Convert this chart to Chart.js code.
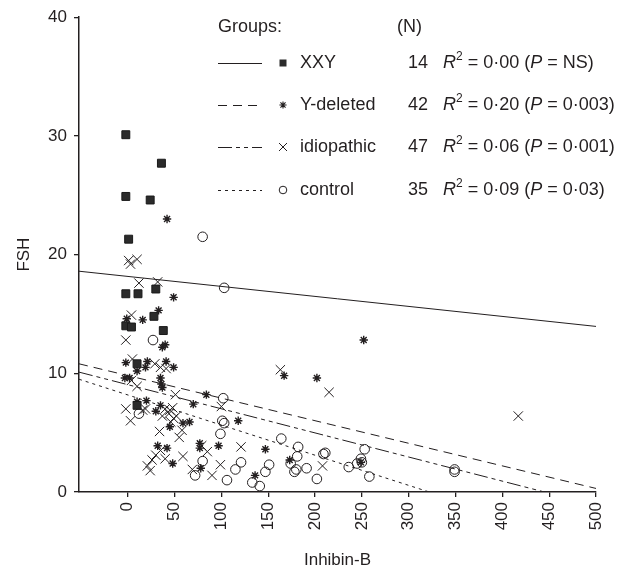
<!DOCTYPE html>
<html>
<head>
<meta charset="utf-8">
<script src="https://cdn.jsdelivr.net/npm/chart.js@4/dist/chart.umd.min.js"></script>
<style>
  html, body { margin: 0; padding: 0; background: #ffffff; }
  #wrap { width: 631px; height: 571px; }
</style>
</head>
<body>
<div id="wrap"><canvas id="c" width="631" height="571"></canvas></div>
<script>
// ---- data: Inhibin-B (x) vs FSH (y) per patient group ----
const groupNames = ['XXY', 'Y-deleted', 'idiopathic', 'control'];
const groupCounts = [14, 42, 47, 35];
const rSquared = ['0·00', '0·20', '0·06', '0·09'];
const pValues = ['NS', '0·003', '0·001', '0·03'];

const xxyPoints = [
  [-2, 30.1], [36, 27.7], [-2, 24.9], [24, 24.6], [1, 21.3], [-2, 16.7], [11, 16.7],
  [30, 17.1], [28, 14.8], [-2, 14.0], [4, 13.9], [38, 13.6], [10, 10.8], [10, 7.3]
];
const yDeletedPoints = [
  [42, 23.0], [49, 16.4], [33, 15.3], [-1, 14.6], [16, 14.5], [37, 12.2], [-2, 10.9],
  [21, 11.0], [41, 11.0], [10, 10.2], [19, 10.5], [49, 10.5], [-3, 9.6], [2, 9.6],
  [35, 9.6], [37, 8.8], [36, 9.1], [84, 8.2], [70, 7.4], [20, 7.7], [35, 7.3],
  [30, 6.8], [118, 6.0], [59, 5.8], [66, 5.9], [45, 5.5], [32, 3.9], [42, 3.7],
  [77, 3.7], [97, 3.9], [77, 4.1], [48, 2.4], [78, 2.0], [136, 1.4], [252, 12.8],
  [167, 9.8], [202, 9.6], [147, 3.6], [173, 2.7], [249, 2.5], [40, 12.4], [10, 7.6]
];
const idiopathicPoints = [
  [1, 19.5], [10, 19.6], [3, 19.2], [12, 17.6], [32, 17.7], [4, 14.9], [-2, 12.8],
  [5, 11.2], [29, 10.8], [35, 10.5], [41, 10.4], [4, 9.4], [10, 8.9], [51, 8.2],
  [-2, 7.0], [19, 7.0], [3, 6.0], [40, 7.0], [44, 6.6], [49, 6.2], [52, 6.4],
  [46, 5.9], [34, 5.1], [55, 4.6], [58, 5.2], [59, 3.0], [121, 3.8], [79, 3.9],
  [85, 3.4], [99, 2.3], [90, 1.4], [69, 1.9], [21, 2.2], [26, 2.7], [30, 3.1],
  [35, 3.5], [40, 2.8], [163, 10.3], [215, 8.4], [417, 6.4], [208, 2.2], [100, 7.2],
  [16, 6.9], [48, 7.1], [24, 1.8], [45, 6.9], [37, 6.4]
];
const controlPoints = [
  [80, 21.5], [103, 17.2], [27, 12.8], [12, 6.6], [102, 7.9], [101, 6.0], [103, 5.8],
  [99, 4.9], [80, 2.6], [72, 1.4], [106, 1.0], [115, 1.9], [121, 2.5], [133, 0.8],
  [141, 0.5], [164, 4.5], [182, 3.8], [181, 3.0], [174, 2.4], [180, 1.9], [178, 1.7],
  [191, 2.0], [202, 1.1], [211, 3.3], [209, 3.2], [236, 2.1], [245, 2.4], [249, 2.8],
  [250, 2.5], [253, 3.6], [258, 1.3], [349, 1.9], [349, 1.7], [147, 1.7], [151, 2.3]
];

// fitted regression lines, endpoints [x, y]
const xxyFit = [[-52, 18.6], [500, 13.95]];
const yDeletedFit = [[-52, 10.8], [500, 0.3]];
const idiopathicFit = [[-52, 10.1], [445, 0]];
const controlFit = [[-52, 9.5], [322, 0]];

const xTickValues = [0, 50, 100, 150, 200, 250, 300, 350, 400, 450, 500];
const yTickValues = [0, 10, 20, 30, 40];

// ---- styling ----
const INK = '#231f20';
const FONT = '"Liberation Sans", Arial, Helvetica, sans-serif';
const toXY = arr => arr.map(p => ({ x: p[0], y: p[1] }));

const lineDashes = [[], [9, 6], [14, 4, 4, 4, 4, 4], [3, 4]];
const fits = [xxyFit, yDeletedFit, idiopathicFit, controlFit];
const pointSets = [xxyPoints, yDeletedPoints, idiopathicPoints, controlPoints];

const pointStyles = [
  { pointStyle: 'rect', pointRadius: 5.6, backgroundColor: '#2b2b2b', borderColor: '#1a1a1a', borderWidth: 1 },
  { pointStyle: 'star', pointRadius: 4.2, backgroundColor: INK, borderColor: INK, borderWidth: 1.4 },
  { pointStyle: 'crossRot', pointRadius: 6.6, backgroundColor: INK, borderColor: INK, borderWidth: 1 },
  { pointStyle: 'circle', pointRadius: 4.8, backgroundColor: 'rgba(0,0,0,0)', borderColor: INK, borderWidth: 1 }
];

const datasets = [];
fits.forEach((f, i) => {
  datasets.push({
    label: groupNames[i] + ' fit',
    data: toXY(f),
    showLine: true,
    borderColor: INK,
    borderWidth: 1,
    borderDash: lineDashes[i],
    pointRadius: 0,
    fill: false,
    order: 2
  });
});
pointSets.forEach((pts, i) => {
  datasets.push(Object.assign({
    label: groupNames[i],
    data: toXY(pts),
    showLine: false,
    pointHoverRadius: 0,
    order: 1
  }, pointStyles[i]));
});

// ---- legend block drawn inside the plot ----
function drawMarker(ctx, kind, x, y) {
  ctx.save();
  ctx.strokeStyle = INK;
  ctx.fillStyle = '#2b2b2b';
  ctx.lineWidth = 1;
  ctx.setLineDash([]);
  ctx.beginPath();
  if (kind === 0) {
    ctx.rect(x - 3.5, y - 3.5, 7, 7);
    ctx.fill();
  } else if (kind === 1) {
    const r = 3.6;
    ctx.lineWidth = 1.1;
    ctx.moveTo(x - r, y); ctx.lineTo(x + r, y);
    ctx.moveTo(x, y - r); ctx.lineTo(x, y + r);
    const d = r * 0.707;
    ctx.moveTo(x - d, y - d); ctx.lineTo(x + d, y + d);
    ctx.moveTo(x - d, y + d); ctx.lineTo(x + d, y - d);
    ctx.stroke();
  } else if (kind === 2) {
    const d = 4;
    ctx.moveTo(x - d, y - d); ctx.lineTo(x + d, y + d);
    ctx.moveTo(x - d, y + d); ctx.lineTo(x + d, y - d);
    ctx.stroke();
  } else {
    ctx.arc(x, y, 3.8, 0, Math.PI * 2);
    ctx.stroke();
  }
  ctx.restore();
}

function drawRuns(ctx, runs, x, y) {
  let cx = x;
  runs.forEach(r => {
    ctx.font = r.font;
    ctx.fillText(r.text, cx, y + (r.dy || 0));
    cx += ctx.measureText(r.text).width;
  });
}

const groupLegend = {
  id: 'groupLegend',
  afterDraw(chart) {
    const ctx = chart.ctx;
    const size = 18;
    const normal = size + 'px ' + FONT;
    const italic = 'italic ' + size + 'px ' + FONT;
    const small = '12px ' + FONT;
    ctx.save();
    ctx.fillStyle = INK;
    ctx.textBaseline = 'middle';
    ctx.font = normal;
    ctx.textAlign = 'left';
    ctx.fillText('Groups:', 218, 27);
    ctx.fillText('(N)', 397, 27);
    const rowY = [63, 105, 147, 190];
    groupNames.forEach((name, i) => {
      const y = rowY[i];
      // line sample
      ctx.save();
      ctx.strokeStyle = INK;
      ctx.lineWidth = 1;
      ctx.setLineDash(lineDashes[i]);
      ctx.beginPath();
      ctx.moveTo(218, y + 0.5);
      ctx.lineTo(262, y + 0.5);
      ctx.stroke();
      ctx.restore();
      drawMarker(ctx, i, 283, y);
      ctx.font = normal;
      ctx.textAlign = 'left';
      ctx.fillText(name, 300, y);
      ctx.textAlign = 'right';
      ctx.fillText(String(groupCounts[i]), 428, y);
      ctx.textAlign = 'left';
      drawRuns(ctx, [
        { text: 'R', font: italic },
        { text: '2', font: small, dy: -6 },
        { text: ' = ' + rSquared[i] + ' (', font: normal },
        { text: 'P', font: italic },
        { text: ' = ' + pValues[i] + ')', font: normal }
      ], 443, y);
    });
    ctx.restore();
  }
};

const tickFont = { family: FONT, size: 17 };

new Chart(document.getElementById('c'), {
  type: 'scatter',
  data: { datasets },
  options: {
    responsive: false,
    animation: false,
    devicePixelRatio: 1,
    layout: { padding: { top: 16, right: 35, left: 0, bottom: 0 } },
    plugins: { legend: { display: false }, tooltip: { enabled: false } },
    scales: {
      x: {
        type: 'linear',
        min: -52,
        max: 500,
        afterBuildTicks: s => { s.ticks = xTickValues.map(v => ({ value: v })); },
        afterFit: s => { s.height = 79; },
        ticks: { minRotation: 90, maxRotation: 90, padding: 5, color: INK, font: tickFont, autoSkip: false },
        grid: { drawOnChartArea: false, drawTicks: true, tickLength: 5, color: INK, lineWidth: 1.3 },
        border: { display: true, color: INK, width: 1.5 },
        title: { display: true, text: 'Inhibin-B', color: INK, font: tickFont, padding: { top: 0, bottom: 0 } }
      },
      y: {
        type: 'linear',
        min: 0,
        max: 40,
        afterBuildTicks: s => { s.ticks = yTickValues.map(v => ({ value: v })); },
        afterFit: s => { s.width = 79; },
        ticks: { padding: 7, color: INK, font: tickFont },
        grid: { drawOnChartArea: false, drawTicks: true, tickLength: 5, color: INK, lineWidth: 1.3 },
        border: { display: true, color: INK, width: 1.5 },
        title: { display: true, text: 'FSH', color: INK, font: tickFont, padding: { top: 14, bottom: 0 } }
      }
    }
  },
  plugins: [groupLegend]
});
</script>
</body>
</html>
